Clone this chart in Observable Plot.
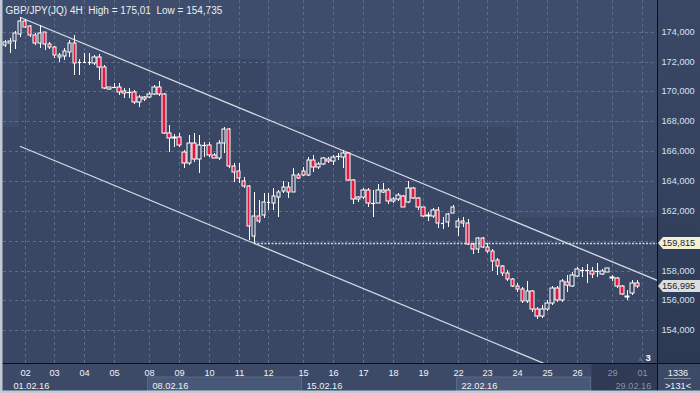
<!DOCTYPE html>
<html><head><meta charset="utf-8">
<script src="https://cdn.jsdelivr.net/npm/d3@7"></script>
<script src="https://cdn.jsdelivr.net/npm/@observablehq/plot@0.6"></script>
<style>
html,body{margin:0;padding:0;background:#36435f;}
#chart{position:relative;width:700px;height:393px;overflow:hidden;}
svg{display:block;}
.pbox{position:absolute;left:658px;width:42px;height:12px;font:9.2px "Liberation Sans",Arial,sans-serif;color:#1b2233;
  line-height:12px;padding-left:4px;box-sizing:border-box;clip-path:polygon(0 50%,5px 0,100% 0,100% 100%,5px 100%);}
</style></head><body><div id="chart"></div>
<script>
// ---- data (GBP/JPY 4H candles, 01.02.16 – 29.02.16) ----
const opens=[173.13,173.22,173.40,173.85,174.72,174.38,173.78,173.26,173.96,173.18,172.95,172.33,172.37,172.66,173.22,171.92,171.93,171.92,171.88,172.28,171.61,170.14,170.31,170.27,170.03,169.95,169.98,169.27,169.60,169.60,169.82,170.31,169.80,167.23,166.86,166.92,165.96,165.22,166.52,165.45,166.40,166.41,165.74,165.52,166.56,167.46,165.00,164.66,163.99,163.68,160.31,161.65,161.72,162.59,162.50,162.94,163.34,163.57,163.28,164.40,164.66,164.37,165.40,164.91,165.13,165.49,165.36,165.62,165.63,165.89,164.06,162.77,162.90,163.39,162.53,162.54,163.28,163.39,162.65,162.77,163.01,162.61,163.50,162.84,162.23,161.72,161.67,162.05,161.19,161.27,161.87,160.93,161.33,161.20,159.75,159.42,160.15,159.59,159.32,158.70,158.32,157.85,157.43,157.00,156.74,155.95,156.64,155.40,154.95,155.40,155.80,156.85,156.00,157.25,156.96,157.62,158.05,157.99,157.96,157.92,157.76,157.92,157.58,157.47,156.96,156.24,156.51,157.18];
const highs=[173.44,173.56,174.07,175.01,174.85,174.45,173.89,174.45,174.00,173.31,173.04,172.59,172.89,173.44,173.78,172.17,172.57,172.57,172.44,172.50,171.77,170.31,170.56,170.54,170.21,170.23,170.09,169.76,169.69,169.98,170.43,170.70,169.87,167.75,167.14,167.23,166.07,167.08,167.19,167.08,166.63,166.63,165.87,166.74,167.63,167.55,165.20,165.18,164.28,163.73,163.28,162.72,163.17,163.17,163.50,163.39,164.01,163.95,164.85,164.51,164.95,165.63,165.74,165.29,165.63,165.63,165.74,165.85,166.07,165.96,164.11,162.99,163.50,163.50,163.39,163.79,163.88,163.50,162.94,163.21,163.06,163.99,163.61,162.90,162.27,161.94,162.18,162.27,161.56,161.87,162.39,161.49,161.56,161.43,159.82,160.26,160.22,159.86,159.42,158.81,158.36,158.03,157.47,157.17,156.87,157.29,156.70,155.55,155.70,156.00,156.96,156.96,157.42,157.69,157.92,158.25,158.25,158.43,158.25,158.52,158.08,158.20,157.69,157.56,157.02,156.69,157.40,157.36];
const lows=[172.98,172.57,172.82,173.67,174.25,173.67,173.11,172.91,172.77,172.82,172.24,171.99,172.10,172.33,171.10,171.10,171.88,171.77,171.77,170.76,170.14,170.09,170.23,169.76,169.54,169.56,169.16,168.97,169.38,169.54,169.74,169.69,167.14,165.96,166.29,166.29,164.87,165.07,165.29,164.55,165.62,165.62,165.52,165.40,165.85,164.85,163.95,163.88,163.55,160.04,159.815,161.16,161.49,162.05,162.05,161.60,163.17,162.84,163.25,164.11,164.33,164.33,164.62,164.78,165.07,165.18,165.07,165.40,164.85,164.01,162.43,162.61,162.77,162.27,161.56,162.50,163.17,162.43,162.54,162.67,162.23,162.50,162.77,162.05,161.56,161.33,161.52,160.82,160.76,160.93,161.83,160.31,160.93,159.70,159.10,159.19,159.49,159.15,157.98,157.69,157.63,157.31,156.87,156.58,155.80,155.85,155.20,154.735,154.80,155.30,155.70,155.90,155.90,156.57,156.87,157.54,157.54,157.18,157.47,157.54,157.70,157.88,157.31,156.83,156.35,156.02,156.35,156.83];
const closes=[173.29,173.40,173.89,174.74,174.33,173.76,173.26,173.93,173.16,172.95,172.44,172.44,172.69,173.22,171.92,171.94,171.94,171.94,172.28,171.61,170.21,170.27,170.32,169.98,169.91,169.97,169.27,169.60,169.47,169.82,170.31,169.80,167.23,166.86,166.96,166.41,165.18,166.52,165.45,166.41,166.42,165.74,165.56,166.56,167.46,165.00,164.62,164.17,163.68,161.00,161.65,161.33,162.59,162.61,162.99,163.28,163.57,163.28,164.40,164.17,164.37,165.40,164.91,165.13,165.52,165.36,165.58,165.64,165.89,164.06,162.77,162.90,163.39,162.54,162.55,163.39,163.39,162.65,162.77,163.06,162.27,163.50,162.84,162.23,161.65,161.65,162.05,161.16,161.21,161.78,162.27,161.33,161.20,159.75,159.42,160.15,159.59,159.32,158.65,158.32,157.85,157.43,156.98,156.74,155.95,156.64,155.40,154.95,155.40,155.80,156.85,156.00,157.29,157.02,157.69,158.08,158.07,158.03,157.80,157.94,157.96,158.14,157.47,156.96,156.42,156.30,157.18,156.995];

const dayTicks=[4,10,16,22,29,35,41,47,53,60,66,72,78,84,91,97,103,109,115,122,128];
const dayLabels=["02","03","04","05","08","09","10","11","12","15","16","17","18","19","22","23","24","25","26","29","01"];
const weekTicks=[29,60,91,122];
const weekLabels=["08.02.16","15.02.16","22.02.16","29.02.16"];
const firstWeekLabel="01.02.16";
const gridPrices=[154,156,158,160,162,164,166,168,170,172,174];
const labelPrices=[154,156,158,162,164,166,168,170,172,174];
const titleText="GBP/JPY(JQ) 4H  High = 175,01  Low = 154,735";
const swingLow=159.815, swingLowIdx=50;
const lastPrice=156.995;
// channel: upper line through the high, lower parallel through the swing low
const channelUpper=[{i:3,p:175.01},{i:131,p:157.37}];
const channelLower=[{i:3,p:166.32},{i:131,p:148.68}];
const barCount="1336", zoomText=">131<", markerText="3";
// lighter background steps (index range, price above which it is lighter)
const shadeSteps=[{a:-0.34,b:2.8,p:167.6},{a:2.8,b:52.6,p:172.2},{a:52.6,b:102.8,p:167.6},{a:102.8,b:131.06,p:161.6}];

// ---- build ----
const candles=opens.map((o,i)=>({i,o,h:highs[i],l:lows[i],c:closes[i],up:closes[i]>=o,
  top:Math.max(o,closes[i]),bot:Math.min(o,closes[i])}));
const doji=candles.filter(d=>Math.abs(d.o-d.c)<0.06);
const bodies=candles.filter(d=>Math.abs(d.o-d.c)>=0.06);
const fmt=v=>v.toFixed(3).replace(".",",");
const X0=-0.34,X1=131.06,Y0=151.81,Y1=176.12;
const W=0.36;
const FONT='"Liberation Sans", Arial, sans-serif';
const dayMap=new Map(dayTicks.map((t,k)=>[t,dayLabels[k]]));
const weekMap=new Map(weekTicks.map((t,k)=>[t,weekLabels[k]]));
const dimFrom=118;

const plot=Plot.plot({
  width:700,height:393,
  marginLeft:3,marginRight:43,marginTop:0,marginBottom:30,
  x:{domain:[X0,X1],round:true,axis:null},
  y:{domain:[Y0,Y1],round:true,axis:null},
  style:{background:"transparent",fontFamily:FONT,fontSize:"9px"},
  marks:[
    Plot.frame({fill:"url(#plotBg)",stroke:null}),
    Plot.rect(shadeSteps,{x1:"a",x2:"b",y1:"p",y2:Y1,fill:"#3e4d6b",inset:0}),
    Plot.gridY(gridPrices,{stroke:"#6a7896",strokeOpacity:0.75,strokeDasharray:"3,3",strokeWidth:1}),
    Plot.gridX(dayTicks.filter(d=>d<=X1),{stroke:"#6a7896",strokeOpacity:0.75,strokeDasharray:"3,3",strokeWidth:1}),
    Plot.line(channelUpper,{x:"i",y:"p",stroke:"#d6dae2",strokeWidth:1.3,clip:"frame"}),
    Plot.line(channelLower,{x:"i",y:"p",stroke:"#d6dae2",strokeWidth:1.3,clip:"frame"}),
    Plot.ruleY([swingLow],{x1:swingLowIdx,x2:X1,stroke:"#cfd4de",strokeWidth:1.6,strokeDasharray:"2,1.5"}),
    Plot.ruleX(candles,{x:"i",y1:"top",y2:"h",stroke:"#ffffff",strokeWidth:1}),
    Plot.ruleX(candles,{x:"i",y1:"l",y2:"bot",stroke:"#ffffff",strokeWidth:1}),
    Plot.rect(bodies.filter(d=>d.up),{x1:d=>d.i-W,x2:d=>d.i+W,y1:"o",y2:"c",fill:"none",stroke:"#ffffff",strokeWidth:1}),
    Plot.rect(bodies.filter(d=>!d.up),{x1:d=>d.i-W,x2:d=>d.i+W,y1:"o",y2:"c",fill:"#e3173d",stroke:"#ffffff",strokeWidth:1}),
    Plot.ruleY(doji,{y:"c",x1:d=>d.i-W,x2:d=>d.i+W,stroke:"#ffffff",strokeWidth:1.2}),
    Plot.text([titleText],{frameAnchor:"top-left",dx:2,dy:10,textAnchor:"start",lineAnchor:"middle",fill:"#e9edf5",fontSize:10}),
    Plot.axisY(labelPrices,{anchor:"right",tickSize:0,tickPadding:4,tickFormat:fmt,fill:"#d3e1f5",fontSize:9.2,textAnchor:"start"}),
    Plot.text(dayTicks,{x:d=>d,frameAnchor:"bottom",dy:10,text:d=>dayMap.get(d),fill:d=>d>=dimFrom?"#8693ab":"#eef2fa",fontSize:9.2,lineAnchor:"middle"}),
    Plot.text(weekTicks,{x:d=>d,frameAnchor:"bottom",dy:23,dx:3,text:d=>weekMap.get(d),textAnchor:"start",fill:d=>d>=dimFrom?"#8693ab":"#eef2fa",fontSize:9.2,lineAnchor:"middle"}),
    Plot.text([X0],{x:d=>d,frameAnchor:"bottom",dy:23,dx:10,text:()=>firstWeekLabel,textAnchor:"start",fill:"#eef2fa",fontSize:9.2,lineAnchor:"middle"}),
    Plot.text([X1],{x:d=>d,frameAnchor:"bottom",dy:-6,dx:-12,text:()=>markerText,textAnchor:"start",fill:"#ffffff",fontWeight:"bold",fontSize:9.5,lineAnchor:"middle"}),
    Plot.text([X1],{x:d=>d,frameAnchor:"bottom",dy:-5,dx:-21,text:()=>"▲",textAnchor:"start",fill:"#56627c",fontSize:8,lineAnchor:"middle"})
  ]
});

const svg=d3.select(plot);
const sx=plot.scale("x"), sy=plot.scale("y");
const fx1=657, fy1=363;
const defs=svg.insert("defs",":first-child");
const g1=defs.append("linearGradient").attr("id","plotBg").attr("x1",0).attr("y1",0).attr("x2",0).attr("y2",1);
g1.append("stop").attr("offset","0%").attr("stop-color","#3a4866");
g1.append("stop").attr("offset","50%").attr("stop-color","#34425e");
g1.append("stop").attr("offset","100%").attr("stop-color","#2d3953");

const decor=svg.insert("g","g").attr("class","decor");
decor.append("rect").attr("x",0).attr("y",0).attr("width",700).attr("height",393).attr("fill","#3a4764");
decor.append("rect").attr("x",fx1).attr("y",0).attr("width",43).attr("height",fy1).attr("fill","url(#plotBg)");
decor.append("rect").attr("x",0).attr("y",fy1).attr("width",700).attr("height",30).attr("fill","#3d4a67");
[[29,60],[91,dimFrom]].forEach(([a,b])=>{
  decor.append("rect").attr("x",sx.apply(a)-1.5).attr("y",377).attr("width",sx.apply(b)-sx.apply(a)).attr("height",14)
    .attr("fill","#4a5877").attr("stroke","#5b6988");
});
decor.append("rect").attr("x",sx.apply(dimFrom)-0.5).attr("y",fy1).attr("width",fx1-sx.apply(dimFrom)+0.5).attr("height",30).attr("fill","#2f3a54");

const over=svg.append("g");
over.append("line").attr("x1",0).attr("x2",700).attr("y1",fy1+0.5).attr("y2",fy1+0.5).attr("stroke","#0c0f16");
over.append("line").attr("x1",fx1+0.5).attr("x2",fx1+0.5).attr("y1",0).attr("y2",393).attr("stroke","#0c0f16");
over.append("rect").attr("x",0).attr("y",0).attr("width",2.5).attr("height",393).attr("fill","#c3cad5");
over.append("rect").attr("x",0).attr("y",390.5).attr("width",700).attr("height",2.5).attr("fill","#c3cad5");
over.append("text").attr("x",678).attr("y",373).attr("dy","0.35em").attr("text-anchor","middle").attr("fill","#eef2fa")
  .attr("font-family",FONT).attr("font-size",9.2).text(barCount);
over.append("line").attr("x1",664).attr("x2",691).attr("y1",378.5).attr("y2",378.5).attr("stroke","#8590a6");
over.append("text").attr("x",678).attr("y",386).attr("dy","0.35em").attr("text-anchor","middle").attr("fill","#eef2fa")
  .attr("font-family",FONT).attr("font-size",9.2).text(zoomText);

const chart=document.getElementById("chart");
chart.appendChild(plot);
function priceBox(p,bg){
  const d=document.createElement("div");
  d.className="pbox";
  d.style.top=(sy.apply(p)-6)+"px";
  d.style.background=bg;
  d.textContent=fmt(p);
  chart.appendChild(d);
}
priceBox(swingLow,"#f4f0d2");
priceBox(lastPrice,"#dcdedb");
</script></body></html>
